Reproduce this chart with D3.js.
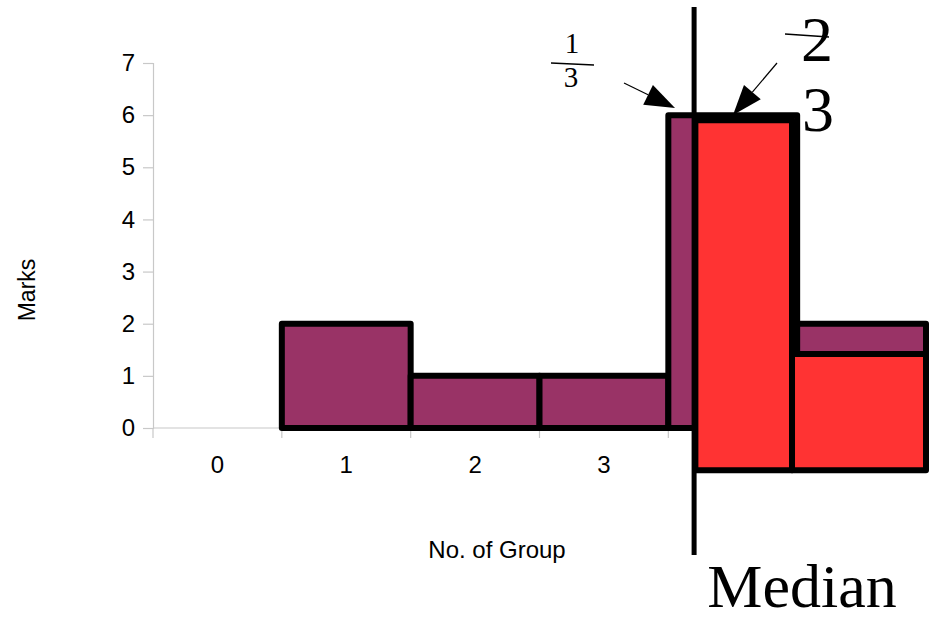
<!DOCTYPE html>
<html><head><meta charset="utf-8">
<script src="https://cdn.jsdelivr.net/npm/d3@7"></script>
<style>body{margin:0;background:#fff}svg{display:block}</style>
</head><body>
<script>
// ---- data ----
const categories = ["0","1","2","3","4","5"];
const marks = [0, 2, 1, 1, 6, 2];
const yTicks = [0,1,2,3,4,5,6,7];
// overlay (median class) rectangles, in category units / mark units
const overlayX0 = [4.21, 4.96];
const overlayX1 = [4.96, 6.0];
const overlayTop = [5.9, 1.42];
const overlayBottom = [-0.81, -0.81];
const medianPos = 4.2;

const W = 932, H = 621;
const m = {left:153, top:63, right:6, bottom:193};
const iw = W - m.left - m.right, ih = H - m.top - m.bottom;

const svg = d3.select("body").append("svg").attr("width",W).attr("height",H);
const g = svg.append("g").attr("transform",`translate(${m.left},${m.top})`);

const x = d3.scaleBand().domain(categories).range([0,iw]).padding(0);
const xu = d3.scaleLinear().domain([0,categories.length]).range([0,iw]);
const y = d3.scaleLinear().domain([0,7]).range([ih,0]);

const sans = "Liberation Sans, Arial, sans-serif";
// y axis
const ya = g.append("g").call(d3.axisLeft(y).tickValues(yTicks).tickSize(10).tickPadding(8).tickFormat(d3.format("d")));
ya.selectAll("line,path").attr("stroke","#c8c8c8").attr("stroke-width",1.2);
ya.selectAll("text").attr("font-family",sans).attr("font-size",24).attr("fill","#000");

// x axis
g.append("line").attr("x1",0).attr("x2",iw).attr("y1",y(0)).attr("y2",y(0)).attr("stroke","#c8c8c8").attr("stroke-width",1.2);
g.selectAll(".xt").data(d3.range(categories.length+1)).join("line")
  .attr("x1",d=>xu(d)).attr("x2",d=>xu(d)).attr("y1",y(0)).attr("y2",y(0)+10)
  .attr("stroke","#c8c8c8").attr("stroke-width",1.2);
g.selectAll(".xl").data(categories).join("text")
  .attr("x",d=>x(d)+x.bandwidth()/2).attr("y",y(0)+45)
  .attr("text-anchor","middle").attr("font-family",sans)
  .attr("font-size",24).text(d=>d);

// bars
g.selectAll(".bar").data(categories.map((c,i)=>({c,v:marks[i]})).filter(d=>d.v>0)).join("rect")
  .attr("x",d=>x(d.c)).attr("width",x.bandwidth())
  .attr("y",d=>y(d.v)).attr("height",d=>y(0)-y(d.v))
  .attr("fill","#993366").attr("stroke","#000").attr("stroke-width",6).attr("stroke-linejoin","round");

// overlay rects
g.selectAll(".ov").data(overlayX0.map((a,i)=>({a,b:overlayX1[i],t:overlayTop[i],bt:overlayBottom[i]}))).join("rect")
  .attr("x",d=>xu(d.a)).attr("width",d=>xu(d.b)-xu(d.a))
  .attr("y",d=>y(d.t)).attr("height",d=>y(d.bt)-y(d.t))
  .attr("fill","#ff3333").attr("stroke","#000").attr("stroke-width",6).attr("stroke-linejoin","round");

// median line
g.append("line").attr("x1",xu(medianPos)).attr("x2",xu(medianPos))
  .attr("y1",y(7)-56).attr("y2",y(0)+127).attr("stroke","#000").attr("stroke-width",5);

// axis titles
svg.append("text").attr("x",497).attr("y",558).attr("text-anchor","middle")
  .attr("font-family",sans).attr("font-size",24).text("No. of Group");
svg.append("text").attr("transform","translate(35,290) rotate(-90)").attr("text-anchor","middle")
  .attr("font-family",sans).attr("font-size",23).text("Marks");

// annotations
const serif = "Liberation Serif, Times New Roman, serif";
svg.append("text").attr("x",802).attr("y",607).attr("font-family",serif).attr("font-size",62).attr("text-anchor","middle").text("Median");
// fraction 1/3
svg.append("text").attr("x",572).attr("y",53).attr("text-anchor","middle").attr("font-family",serif).attr("font-size",29).text("1");
svg.append("line").attr("x1",551).attr("y1",63).attr("x2",594).attr("y2",65).attr("stroke","#000").attr("stroke-width",1.3);
svg.append("text").attr("x",571).attr("y",87).attr("text-anchor","middle").attr("font-family",serif).attr("font-size",29).text("3");
// 2/3 big
svg.append("text").attr("x",817).attr("y",61).attr("text-anchor","middle").attr("font-family",serif).attr("font-size",64).text("2");
svg.append("line").attr("x1",785).attr("y1",34).attr("x2",829).attr("y2",37).attr("stroke","#000").attr("stroke-width",1.3);
svg.append("text").attr("x",818).attr("y",131).attr("text-anchor","middle").attr("font-family",serif).attr("font-size",64).text("3");

function arrow(x1,y1,x2,y2){
  const dx=x2-x1, dy=y2-y1, L=Math.hypot(dx,dy), ux=dx/L, uy=dy/L;
  const hl=30, hw=11;
  const bx=x2-ux*hl, by=y2-uy*hl;
  svg.append("line").attr("x1",x1).attr("y1",y1).attr("x2",bx).attr("y2",by).attr("stroke","#000").attr("stroke-width",1.2);
  svg.append("path").attr("d",`M${x2},${y2}L${bx-uy*hw},${by+ux*hw}L${bx+uy*hw},${by-ux*hw}Z`).attr("fill","#000");
}
arrow(624,83,675,108);
arrow(777,63,733,115);
</script>
</body></html>
